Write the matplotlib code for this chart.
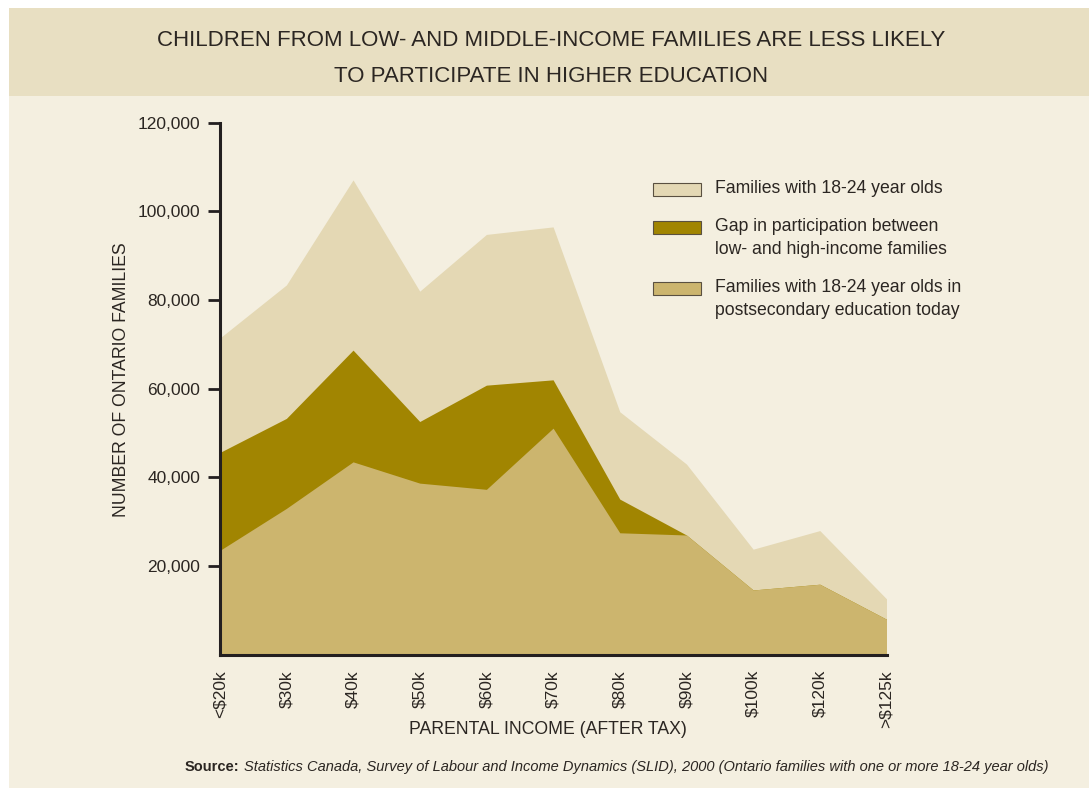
import matplotlib
matplotlib.use("Agg")
import matplotlib.pyplot as plt
from matplotlib.patches import Rectangle
from matplotlib.ticker import FuncFormatter, FixedLocator

# data
incomes = ['<$20k', '$30k', '$40k', '$50k', '$60k', '$70k', '$80k', '$90k', '$100k', '$120k', '>$125k']
families_total = [71400, 83400, 107100, 82000, 94800, 96500, 54800, 43000, 23800, 28000, 12600]
families_in_pse = [23500, 33000, 43500, 38700, 37300, 51100, 27500, 27000, 14600, 15900, 8000]
participation_gap = [22100, 20300, 25200, 13900, 23500, 10900, 7600, 0, 0, 0, 0]
y_ticks = [20000, 40000, 60000, 80000, 100000, 120000]

legend_labels = ['Families with 18-24 year olds',
                 'Gap in participation between\nlow- and high-income families',
                 'Families with 18-24 year olds in\npostsecondary education today']

c_light = '#E4D8B4'
c_gap = '#A18501'
c_pse = '#CCB56E'
c_bg = '#F4EFE0'
c_banner = '#E8DFC2'
c_text = '#2B2622'

plt.rcParams['font.family'] = ['Liberation Sans', 'DejaVu Sans']

W, H = 1089, 788
fig = plt.figure(figsize=(W / 100, H / 100), dpi=100, facecolor='white')
renderer = fig.canvas.get_renderer()


def px(x, y):
    return x / W, 1 - y / H


def fit(t, width):
    # shrink/grow the font so the text is as wide as in the reference
    for _ in range(3):
        w = t.get_window_extent(renderer).width
        t.set_fontsize(t.get_fontsize() * width / w)
    return t


# background panels
fig.patches.append(Rectangle(px(9, 788), (W - 9) / W, (788 - 8) / H, transform=fig.transFigure,
                             facecolor=c_bg, edgecolor='none', zorder=-10))
fig.patches.append(Rectangle(px(9, 96), (W - 9) / W, (96 - 8) / H, transform=fig.transFigure,
                             facecolor=c_banner, edgecolor='none', zorder=-9))

t1 = fig.text(551 / W, 1 - 40 / H, 'CHILDREN FROM LOW- AND MIDDLE-INCOME FAMILIES ARE LESS LIKELY',
              ha='center', va='center', fontsize=17, color=c_text)
fit(t1, 790)
fig.text(551 / W, 1 - 76 / H, 'TO PARTICIPATE IN HIGHER EDUCATION',
         ha='center', va='center', fontsize=t1.get_fontsize(), color=c_text)

left, right = 219.7, 886.5
top, bottom = 122.7, 654.7
ax = fig.add_axes([left / W, 1 - bottom / H, (right - left) / W, (bottom - top) / H])
ax.set_facecolor('none')

x = list(range(len(incomes)))
gap_top = [a + b for a, b in zip(families_in_pse, participation_gap)]
ax.fill_between(x, 0, families_total, color=c_light, linewidth=0)
ax.fill_between(x, 0, gap_top, color=c_gap, linewidth=0)
ax.fill_between(x, 0, families_in_pse, color=c_pse, linewidth=0)

ax.set_xlim(0, len(incomes) - 1)
ax.set_ylim(0, 120000)

for s in ['top', 'right']:
    ax.spines[s].set_visible(False)
for s in ['left', 'bottom']:
    ax.spines[s].set_linewidth(2.2)
    ax.spines[s].set_color('#231F20')

ax.set_yticks(y_ticks)
ax.yaxis.set_major_formatter(FuncFormatter(lambda v, p: f'{int(v):,}'))
ax.tick_params(axis='y', direction='out', length=9, width=2, color='#231F20',
               labelsize=12.5, labelcolor=c_text, pad=5)

ax.set_xticks(x)
ax.set_xticklabels(incomes, rotation=90)
ax.tick_params(axis='x', which='major', length=0, labelsize=12.5, labelcolor=c_text, pad=11)
ax.xaxis.set_minor_locator(FixedLocator(x[1:-1]))
ax.tick_params(axis='x', which='minor', direction='in', length=8, width=2, color='#231F20')

xl = fig.text(548 / W, 1 - 730 / H, 'PARENTAL INCOME (AFTER TAX)', ha='center', va='center',
              fontsize=14, color=c_text)
fit(xl, 275)
yl = fig.text(122 / W, 1 - 380 / H, 'NUMBER OF ONTARIO FAMILIES', ha='center', va='center',
              rotation=90, fontsize=14, color=c_text)
yl.set_rotation(0)
fit(yl, 276)
yl.set_rotation(90)

# legend drawn by hand so the swatch sits at the first line
legend_y = [189, 227, 288]
leg_texts = []
for col, lab, yy in zip([c_light, c_gap, c_pse], legend_labels, legend_y):
    fig.patches.append(Rectangle(px(653, yy + 6.5), 48 / W, 13 / H, transform=fig.transFigure,
                                 facecolor=col, edgecolor='#5a5040', linewidth=0.8))
    leg_texts.append(fig.text(715 / W, 1 - (yy - 9) / H, lab, ha='left', va='top', fontsize=14,
                              color=c_text, linespacing=1.45))
fit(leg_texts[0], 228)
for t in leg_texts[1:]:
    t.set_fontsize(leg_texts[0].get_fontsize())

s1 = fig.text(185 / W, 1 - 767 / H, 'Source:', ha='left', va='center', fontsize=12,
              fontweight='bold', color=c_text)
s2 = fig.text(240 / W, 1 - 767 / H,
              'Statistics Canada, Survey of Labour and Income Dynamics (SLID), 2000 '
              '(Ontario families with one or more 18-24 year olds)',
              ha='left', va='center', fontsize=12, style='italic', color=c_text)
for _ in range(3):
    w1 = s1.get_window_extent(renderer).width
    w2 = s2.get_window_extent(renderer).width
    k = (868 - 4) / (w1 + w2)
    s1.set_fontsize(s1.get_fontsize() * k)
    s2.set_fontsize(s2.get_fontsize() * k)
w1 = s1.get_window_extent(renderer).width
s2.set_x((185 + w1 + 4) / W)

fig.savefig('out.png', dpi=100, facecolor='white')
